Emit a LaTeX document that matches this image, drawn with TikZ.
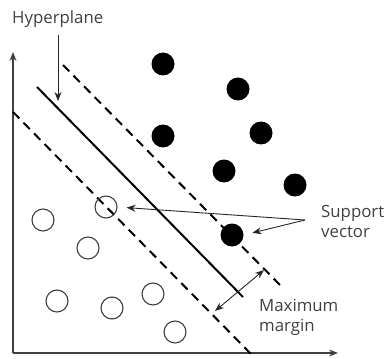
\documentclass[tikz,border=0pt]{standalone}
\usepackage{fontspec}
\setmainfont{Open Sans}
\usetikzlibrary{arrows.meta}
\begin{document}
\begin{tikzpicture}[x=1pt,y=-1pt,
  lbl/.style={text=black!75,font=\fontsize{16.8}{20}\selectfont,inner sep=0pt,align=left},
  filled/.style={circle,fill=black,minimum size=23pt,inner sep=0pt},
  hollow/.style={circle,draw=black!75,line width=1.1pt,minimum size=22pt,inner sep=0pt},
  axis/.style={draw=black!75,line width=1.2pt,-{Stealth[length=9pt,width=7pt]}},
  dashline/.style={line width=2pt,dash pattern=on 9pt off 6pt},
  pointer/.style={draw=black!85,line width=0.9pt,-{Stealth[length=9pt,width=7pt]}}]
\useasboundingbox (0,0) rectangle (390,358);
% axes
\coordinate (O) at (13,353);
\coordinate (Y) at (13,52);
\coordinate (X) at (338,353);
\draw[axis] (O) -- (Y);
\draw[axis] (O) -- (X);
% lines
\coordinate (h1) at (37,87);
\coordinate (h2) at (243,297);
\coordinate (u1) at (63,65);
\coordinate (u2) at (282,287);
\coordinate (l1) at (13,112);
\coordinate (l2) at (252,355);
\draw[line width=2pt] (h1) -- (h2);
\draw[dashline] (u1) -- (u2);
\draw[dashline] (l1) -- (l2);
% filled points
\node[filled] (f1) at (163,64) {};
\node[filled] (f2) at (238,89) {};
\node[filled] (f3) at (163,136) {};
\node[filled] (f4) at (261,133) {};
\node[filled] (f5) at (224,171) {};
\node[filled] (f6) at (295,185) {};
\node[filled] (f7) at (232,235) {};
% hollow points
\node[hollow] (o1) at (43,220) {};
\node[hollow] (o2) at (106,207) {};
\node[hollow] (o3) at (88,248) {};
\node[hollow] (o4) at (57,301) {};
\node[hollow] (o5) at (112,308) {};
\node[hollow] (o6) at (153,294) {};
\node[hollow] (o7) at (175,332) {};
% labels
\node[lbl,anchor=west] (hyp) at (12,19) {Hyperplane};
\coordinate (hs) at (58,35);
\coordinate (ht) at (58,101);
\draw[pointer] (hs) -- (ht);
\node[lbl,anchor=west] (sv) at (321,221) {Support\\vector};
\coordinate (svc) at (305,220);
\draw[pointer,shorten >=9pt] (svc) -- (o2.east);
\draw[pointer,shorten >=9pt] (svc) -- (f7.east);
\coordinate (m1) at (264,270);
\coordinate (m2) at (215,311);
\draw[draw=black!85,line width=0.9pt,{Stealth[length=9pt,width=7pt]}-{Stealth[length=9pt,width=7pt]}] (m2) -- (m1);
\node[lbl,anchor=west] (mm) at (259,317) {Maximum\\margin};
\end{tikzpicture}
\end{document}
